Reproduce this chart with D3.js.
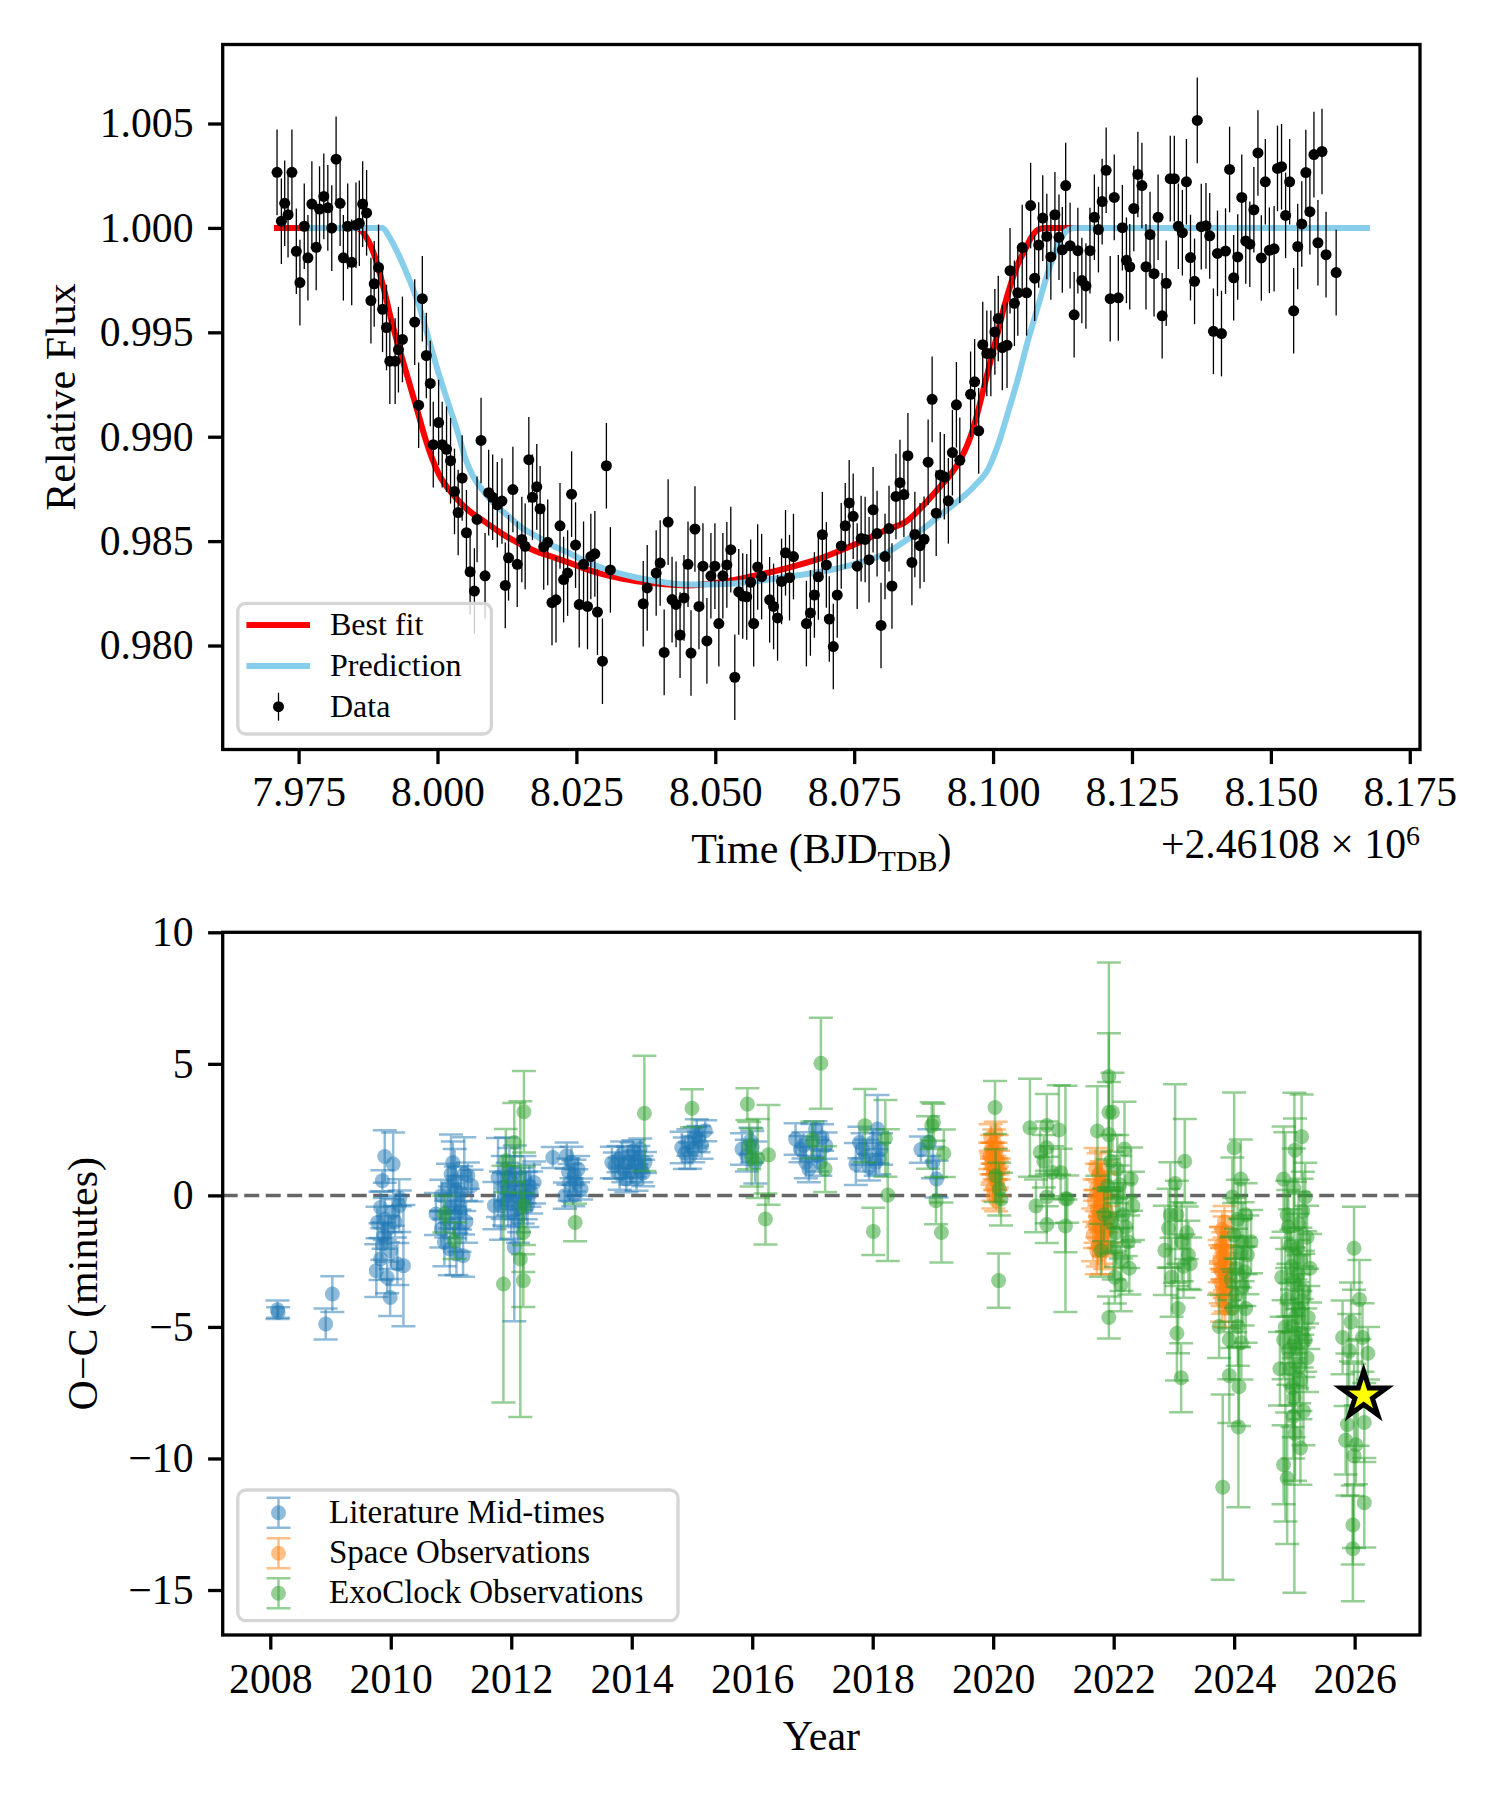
<!DOCTYPE html>
<html>
<head>
<meta charset="utf-8">
<script src="https://cdn.jsdelivr.net/npm/d3@7"></script>
<style>
  body { margin: 0; background: #ffffff; }
</style>
</head>
<body>
<div id="chart"></div>
<script>
// ---------------- data ----------------

// light curve: [time - 2461080, relative flux]
var lightCurve = [
  [7.97112, 1.00266], [7.9719, 1.00032], [7.9725, 1.00118], [7.9731, 1.00063], [7.9738, 1.00266],
  [7.97459, 0.99888], [7.97524, 0.99738], [7.97602, 1.00008], [7.97668, 0.99857], [7.97739, 1.00114],
  [7.97817, 0.99907], [7.97877, 1.0009], [7.97954, 1.00151], [7.98026, 1.00096], [7.98097, 0.99999],
  [7.98175, 1.00329], [7.98247, 1.00118], [7.98306, 0.99857], [7.98384, 1.00008], [7.98456, 0.99835],
  [7.98533, 1.00013], [7.98593, 1.00022], [7.98653, 1.00114], [7.98724, 1.00072],
  [7.98802, 0.99652], [7.98861, 0.99732], [7.98939, 0.99811], [7.99011, 0.9961], [7.99082, 0.99523],
  [7.99142, 0.99362], [7.99238, 0.99362], [7.99297, 0.99417], [7.99369, 0.99466], [7.9959, 0.99549],
  [7.99661, 0.99151], [7.99727, 0.99661], [7.99799, 0.99389], [7.9987, 0.99255], [7.99924, 0.98962],
  [8.0002, 0.99068], [8.00085, 0.98962], [8.00163, 0.9894], [8.00235, 0.98885], [8.00306, 0.98738],
  [8.00372, 0.98637], [8.00444, 0.98802], [8.00521, 0.9854], [8.00587, 0.98353], [8.00664, 0.98261],
  [8.00712, 0.98604], [8.00784, 0.98982], [8.00856, 0.98334], [8.00921, 0.98732], [8.00993, 0.9871],
  [8.01076, 0.98674], [8.0116, 0.98692], [8.0122, 0.98288], [8.01279, 0.9842], [8.01357, 0.98747],
  [8.01435, 0.98389], [8.01518, 0.98508], [8.01578, 0.98475], [8.01644, 0.9889], [8.01709, 0.9871],
  [8.01787, 0.9876], [8.01847, 0.98655], [8.01912, 0.98472], [8.01984, 0.98494], [8.02061, 0.98206],
  [8.02133, 0.98219], [8.02205, 0.98573], [8.0227, 0.98316], [8.02342, 0.98347], [8.02414, 0.98725],
  [8.02485, 0.98481], [8.02551, 0.98196], [8.02629, 0.98389], [8.027, 0.98187], [8.0276, 0.98426],
  [8.02832, 0.98439], [8.02879, 0.9816],
  [8.02969, 0.97925], [8.0304, 0.98861], [8.03112, 0.98362], [8.03703, 0.982], [8.03775, 0.98276],
  [8.03936, 0.98347], [8.04008, 0.98395], [8.0408, 0.97967], [8.04151, 0.98591], [8.04222, 0.9822],
  [8.04294, 0.98197], [8.04366, 0.9805], [8.04437, 0.98228], [8.04509, 0.98389], [8.04563, 0.97964],
  [8.04634, 0.98558], [8.04706, 0.98187], [8.04778, 0.9838], [8.04849, 0.98022], [8.04921, 0.98334],
  [8.04993, 0.9838], [8.05064, 0.98105], [8.05136, 0.98334], [8.05208, 0.98386], [8.05279, 0.98459],
  [8.05351, 0.97848], [8.05422, 0.98257], [8.05494, 0.98237], [8.05566, 0.98233], [8.05637, 0.98303],
  [8.05691, 0.98105], [8.05763, 0.98376], [8.05834, 0.9833], [8.05978, 0.98219], [8.06049, 0.98187],
  [8.06121, 0.98132], [8.06193, 0.98307], [8.06264, 0.98444], [8.06336, 0.98325], [8.06407, 0.98426],
  [8.0664, 0.98105], [8.06712, 0.98156], [8.06784, 0.98242], [8.06855, 0.98329], [8.06927, 0.98531],
  [8.06999, 0.98386], [8.07052, 0.98127], [8.07124, 0.97995], [8.07195, 0.98242], [8.07267, 0.98477],
  [8.07339, 0.98573], [8.0741, 0.98683], [8.07482, 0.98619], [8.07554, 0.9838], [8.07625, 0.98512],
  [8.07697, 0.98508], [8.07768, 0.98411], [8.0784, 0.9865], [8.07912, 0.98536], [8.07983, 0.98096],
  [8.08055, 0.98426], [8.08127, 0.9856], [8.0818, 0.98285], [8.08252, 0.98714], [8.08324, 0.9878],
  [8.08395, 0.98723], [8.08467, 0.98909], [8.08539, 0.98398], [8.08592, 0.98532],
  [8.08685, 0.98478], [8.08758, 0.98509], [8.08831, 0.98878], [8.08903, 0.99179], [8.08976, 0.98634],
  [8.09049, 0.98817], [8.09122, 0.98808], [8.09195, 0.98693], [8.09268, 0.98924], [8.0934, 0.99153],
  [8.09401, 0.98887], [8.09595, 0.99203], [8.09668, 0.99263], [8.09741, 0.99028], [8.09814, 0.99441],
  [8.09887, 0.99399], [8.0996, 0.99399], [8.10032, 0.99502], [8.10093, 0.99566], [8.10166, 0.99427],
  [8.10251, 0.99438], [8.10305, 0.99795], [8.10384, 0.99639], [8.10445, 0.99689], [8.10524, 0.99906],
  [8.10603, 0.99689], [8.10676, 1.00107], [8.10749, 0.99759], [8.10821, 0.99918], [8.10894, 1.00047],
  [8.10967, 0.99959], [8.1104, 0.99861], [8.11113, 1.00063], [8.11186, 0.99955], [8.11246, 0.99895],
  [8.11307, 1.00203], [8.11386, 0.99915], [8.11459, 0.99584], [8.11526, 0.99891], [8.11598, 0.99748],
  [8.11671, 0.99722], [8.11744, 0.99891], [8.11823, 1.00051], [8.11896, 0.99992], [8.11963, 1.00126],
  [8.12035, 1.00276], [8.12108, 0.99661], [8.12181, 1.00146], [8.12254, 0.99665], [8.12327, 1.00001],
  [8.124, 0.99845], [8.1246, 0.99814], [8.12533, 1.00093], [8.12606, 1.00256], [8.12679, 1.00203],
  [8.12752, 0.99814], [8.12825, 0.99968], [8.12897, 0.99781], [8.1297, 1.00051], [8.13043, 0.99579],
  [8.13116, 0.99735], [8.13189, 1.00236], [8.13262, 1.00236], [8.13334, 1.00008], [8.13407, 0.99977],
  [8.1348, 1.00221], [8.13553, 0.99858], [8.13626, 0.99744], [8.13675, 1.00515], [8.13747, 1.00006],
  [8.13832, 1.0001], [8.13899, 0.99962], [8.13966, 0.99505], [8.14039, 0.99878], [8.14111, 0.99494],
  [8.14184, 0.99889], [8.14257, 1.0028], [8.1433, 0.99761], [8.14403, 0.99861], [8.14476, 1.00146],
  [8.14548, 0.99937], [8.14621, 0.99922], [8.14694, 1.00087], [8.14767, 1.00359], [8.14828, 0.99856],
  [8.149, 1.00221], [8.14973, 0.99893], [8.15058, 0.999], [8.15119, 1.00285], [8.15192, 1.00293],
  [8.15265, 1.0006], [8.15338, 1.00221], [8.1541, 0.99603], [8.15483, 0.99911], [8.15556, 1.00019],
  [8.15629, 1.00265], [8.15702, 1.00078], [8.15775, 1.00351], [8.15847, 0.99929], [8.1592, 1.00366],
  [8.15993, 0.99872], [8.16175, 0.99786]
];
var fluxErr = 0.00205;

var bestFit = [
  [7.9711, 1.0], [7.98545, 1.0], [7.98712, 0.99958], [7.98891, 0.99848], [7.9904, 0.99701],
  [7.9919, 0.99536], [7.99369, 0.99371], [7.99548, 0.99206], [7.99668, 0.99096], [7.99787, 0.98986],
  [7.99906, 0.98894], [8.00026, 0.9882], [8.00205, 0.98747], [8.00384, 0.98692], [8.00563, 0.98646],
  [8.00862, 0.98591], [8.0116, 0.98536], [8.01459, 0.9849], [8.01757, 0.98453], [8.02056, 0.98426],
  [8.02354, 0.98398], [8.02712, 0.98362], [8.03309, 0.98321], [8.03906, 0.98298], [8.04503, 0.98288],
  [8.051, 0.98303], [8.05697, 0.98334], [8.06294, 0.98371], [8.06891, 0.98417], [8.07488, 0.98481],
  [8.08085, 0.98554], [8.08442, 0.98595], [8.08746, 0.98671], [8.09049, 0.98762], [8.09231, 0.98817],
  [8.09413, 0.98891], [8.09595, 0.99001], [8.09717, 0.99111], [8.09838, 0.99239], [8.0996, 0.99368],
  [8.10081, 0.99496], [8.10202, 0.99625], [8.10324, 0.99735], [8.10445, 0.99827], [8.10567, 0.99891],
  [8.10688, 0.99955], [8.10809, 0.99992], [8.10931, 1.0], [8.167, 1.0]
];

var prediction = [
  [7.9763, 1.0], [7.9901, 1.0], [7.9913, 0.99958], [7.99309, 0.99866], [7.99488, 0.99756],
  [7.99668, 0.99628], [7.99847, 0.99463], [8.00026, 0.99298], [8.00205, 0.99151], [8.00384, 0.99004],
  [8.00503, 0.98894], [8.00623, 0.9882], [8.00802, 0.98747], [8.0104, 0.98674], [8.01279, 0.98619],
  [8.01518, 0.98564], [8.01757, 0.98527], [8.02056, 0.98481], [8.02354, 0.98444], [8.02712, 0.98398],
  [8.03309, 0.98343], [8.03906, 0.9831], [8.04503, 0.98292], [8.051, 0.98294], [8.05697, 0.98307],
  [8.06294, 0.98329], [8.06891, 0.98353], [8.07488, 0.98389], [8.08085, 0.98444], [8.08442, 0.98505],
  [8.08746, 0.9856], [8.09049, 0.98625], [8.09353, 0.98689], [8.09656, 0.98762], [8.09929, 0.98854],
  [8.10081, 0.98955], [8.10263, 0.99111], [8.10445, 0.99276], [8.10627, 0.9946], [8.10809, 0.99625],
  [8.10991, 0.9979], [8.11113, 0.99882], [8.11234, 0.99955], [8.11355, 0.99992], [8.11477, 1.0],
  [8.1673, 1.0]
];

// O-C points: [year, O-C minutes, error minutes]
var literature = [
  [2008.12, -4.35, 0.35], [2008.13, -4.45, 0.2], [2009.03, -3.75, 0.68], [2008.92, -4.89, 0.59],
  [2009.90, 1.48, 1.0], [2010.04, 1.19, 1.2], [2009.86, 0.56, 0.4], [2010.15, -0.11, 0.3],
  [2009.83, -0.46, 0.6], [2009.90, -0.90, 0.8], [2010.07, -1.0, 0.6], [2009.95, -1.28, 0.5],
  [2009.86, -1.85, 0.6], [2010.0, -2.10, 0.7], [2009.76, -2.86, 1.0], [2010.11, -2.61, 0.8],
  [2010.21, -2.67, 2.3], [2009.83, -2.42, 0.8], [2009.94, -3.12, 0.6], [2009.99, -3.88, 0.7],
  [2009.88, -1.53, 0.5], [2010.03, -0.65, 0.5], [2009.78, -1.03, 0.6], [2010.14, -0.39, 1.0],
  [2011.0, 0.81, 1.5], [2011.22, 0.81, 1.4], [2011.06, 0.56, 1.2], [2011.17, 0.11, 1.0],
  [2010.84, -0.01, 0.6], [2010.75, -0.71, 0.8], [2011.11, -0.27, 1.0], [2010.98, -0.46, 0.8],
  [2010.84, -1.28, 0.7], [2011.06, -1.03, 0.6], [2010.89, -1.79, 0.9], [2011.14, -1.34, 0.8],
  [2011.09, -2.23, 0.8], [2011.2, -2.29, 0.8], [2010.98, -2.04, 1.0], [2011.28, 0.75, 0.5],
  [2011.34, 0.37, 0.6], [2011.03, 1.25, 0.8], [2010.92, -0.9, 0.7], [2011.15, -0.6, 0.7],
  [2011.08, 0.2, 0.9], [2011.25, -1.0, 0.8], [2010.95, 0.3, 0.9],
  [2011.78, 0.68, 1.5], [2011.83, -0.39, 1.3], [2011.91, 1.0, 1.2], [2011.94, 0.24, 1.0],
  [2012.02, 0.49, 1.0], [2012.08, -0.01, 0.9], [2012.16, 0.24, 0.8], [2012.24, -0.01, 0.9],
  [2012.3, 0.37, 0.8], [2012.0, -0.65, 1.0], [2012.11, -0.90, 0.9], [2012.05, -1.98, 2.8],
  [2011.88, -0.14, 1.0], [2012.19, -0.27, 0.8], [2012.33, 0.11, 0.8], [2011.72, -0.39, 0.9],
  [2012.38, 0.49, 0.8], [2011.97, 0.7, 1.1], [2012.13, -0.5, 0.9], [2011.86, 0.3, 1.2],
  [2012.22, 0.6, 0.9], [2012.06, 0.9, 1.0], [2011.95, -0.2, 1.0], [2012.27, -0.4, 0.8],
  [2012.69, 1.44, 0.4], [2012.92, 1.51, 0.5], [2013.0, 1.25, 0.6], [2013.05, 0.75, 0.6],
  [2012.97, 0.49, 0.7], [2012.89, -0.01, 0.5], [2013.11, 1.0, 0.5], [2013.16, 0.24, 0.4],
  [2013.03, -0.01, 0.4], [2013.08, 0.49, 0.5], [2012.95, 0.9, 0.5],
  [2013.67, 1.25, 0.6], [2013.78, 1.38, 0.5], [2013.86, 1.0, 0.5], [2013.94, 1.25, 0.6],
  [2014.0, 1.51, 0.5], [2014.05, 1.19, 0.5], [2014.11, 1.38, 0.5], [2014.16, 1.0, 0.5],
  [2013.91, 0.62, 0.5], [2014.08, 0.68, 0.5], [2014.22, 1.25, 0.4], [2013.8, 0.81, 0.6],
  [2013.72, 1.13, 0.5], [2014.14, 1.76, 0.4], [2013.98, 0.9, 0.5], [2014.03, 1.7, 0.4],
  [2013.84, 1.55, 0.5], [2014.19, 0.85, 0.5],
  [2014.83, 1.82, 0.6], [2014.94, 2.01, 0.5], [2015.02, 1.76, 0.5], [2015.11, 2.14, 0.5],
  [2015.22, 2.46, 0.4], [2014.97, 1.51, 0.5], [2015.16, 1.89, 0.5], [2015.08, 2.39, 0.5],
  [2014.88, 1.6, 0.6], [2015.05, 2.2, 0.4],
  [2015.83, 1.76, 0.6], [2015.97, 2.07, 0.5], [2016.05, 1.25, 0.8], [2015.91, 1.51, 0.6],
  [2016.0, 1.85, 0.6],
  [2016.72, 2.14, 0.6], [2016.8, 1.76, 0.5], [2016.89, 1.25, 0.6], [2017.0, 2.01, 0.7],
  [2017.08, 1.51, 0.6], [2017.13, 1.25, 0.5], [2016.94, 1.0, 0.5], [2017.05, 2.52, 0.3],
  [2017.22, 1.89, 0.5], [2016.85, 1.9, 0.5], [2017.16, 2.2, 0.5],
  [2017.72, 1.19, 0.8], [2017.83, 1.76, 0.6], [2017.89, 1.51, 0.6], [2018.0, 2.01, 0.5],
  [2018.08, 2.52, 1.3], [2018.05, 1.25, 0.5], [2018.14, 1.76, 0.6], [2017.94, 1.07, 0.5],
  [2017.78, 2.01, 0.6], [2018.11, 1.4, 0.6],
  [2018.8, 1.74, 0.5], [2018.94, 2.01, 0.5], [2019.06, 0.62, 0.7], [2019.0, 1.25, 0.6]
];

var space = [
  [2019.96, 2.2, 0.5], [2019.98, 1.9, 0.4], [2020.0, 1.6, 0.4], [2020.02, 2.0, 0.5],
  [2020.04, 1.4, 0.4], [2019.97, 1.2, 0.4], [2020.05, 1.0, 0.4], [2019.99, 0.8, 0.4],
  [2020.03, 0.6, 0.4], [2020.06, 1.8, 0.5], [2020.01, 1.1, 0.3], [2020.07, 0.4, 0.4],
  [2019.95, 1.5, 0.5], [2020.08, 1.3, 0.4], [2020.0, 0.3, 0.5], [2020.04, 2.4, 0.4],
  [2020.02, 0.9, 0.3], [2019.98, 1.7, 0.3], [2020.06, 0.7, 0.4], [2020.09, 1.0, 0.4],
  [2020.0, 0.0, 0.5], [2020.05, -0.2, 0.4],
  [2021.70, 1.0, 0.8], [2021.75, 0.8, 0.8], [2021.80, 0.6, 0.7], [2021.72, 0.3, 0.9],
  [2021.85, 0.1, 0.8], [2021.68, -0.2, 0.8], [2021.78, -0.4, 0.9], [2021.88, -0.6, 0.8],
  [2021.7, -0.8, 1.0], [2021.82, -1.0, 0.9], [2021.76, -1.2, 0.8], [2021.9, -1.3, 0.9],
  [2021.66, -1.5, 1.0], [2021.8, -1.7, 0.9], [2021.74, -1.9, 0.8], [2021.86, -2.0, 0.8],
  [2021.72, -2.1, 0.9], [2021.8, -2.2, 0.8], [2021.84, -0.2, 1.0], [2021.73, -0.5, 1.1],
  [2021.79, 0.9, 0.8], [2021.92, -0.9, 0.9], [2021.69, -1.1, 0.9], [2021.83, -1.5, 0.8],
  [2021.77, 0.2, 1.0],
  [2023.8, -1.3, 0.7], [2023.84, -1.6, 0.8], [2023.78, -1.9, 0.7], [2023.86, -2.1, 0.8],
  [2023.82, -2.3, 0.9], [2023.76, -2.5, 0.8], [2023.88, -2.7, 0.8], [2023.8, -2.9, 0.9],
  [2023.84, -3.1, 0.8], [2023.78, -3.3, 0.8], [2023.86, -3.5, 0.9], [2023.82, -3.7, 0.8],
  [2023.8, -4.0, 0.8], [2023.85, -4.3, 0.7], [2023.79, -2.0, 0.8], [2023.83, -2.6, 0.7],
  [2023.87, -3.0, 0.8], [2023.81, -3.5, 0.7], [2023.77, -2.8, 0.9], [2023.84, -1.0, 0.6]
];

var exoclock = [
  [2010.89, -0.71, 0.7], [2011.06, -1.72, 0.7],
  [2012.21, 3.18, 1.55], [2012.05, 2.01, 1.5], [2011.91, 1.32, 1.2], [2012.21, -0.39, 1.5],
  [2012.2, -1.41, 1.5], [2012.15, -2.42, 6.0], [2011.87, -3.37, 4.5], [2012.2, -3.24, 1.0],
  [2013.06, -1.03, 0.71], [2014.21, 3.12, 2.19], [2015.0, 3.31, 0.72],
  [2015.92, 3.47, 0.6], [2015.99, 1.44, 1.1], [2016.09, 1.4, 1.5], [2016.27, 1.54, 1.9],
  [2016.22, -0.9, 0.97], [2015.95, 1.89, 0.9],
  [2017.0, 2.11, 0.7], [2017.14, 5.02, 1.73], [2017.21, 1.0, 0.87],
  [2017.87, 2.65, 1.39], [2018.21, 2.17, 1.46], [2018.25, 0.01, 2.5], [2018.01, -1.37, 0.9],
  [2018.98, 2.65, 0.89], [2019.01, 2.78, 0.7], [2019.18, 1.6, 0.9], [2019.05, -0.2, 0.9],
  [2019.14, -1.41, 1.14], [2018.92, 2.01, 1.0],
  [2020.03, 3.34, 1.01], [2020.04, 0.75, 1.0], [2020.1, 0.24, 1.0], [2020.13, -0.14, 1.0],
  [2020.09, -3.24, 1.03],
  [2020.61, 2.57, 1.86], [2020.89, 2.66, 1.19], [2021.09, 2.49, 1.7], [2020.89, 1.81, 1.0],
  [2020.84, 1.3, 1.0], [2020.98, 0.87, 1.0], [2021.12, 0.87, 0.9], [2021.23, -0.14, 0.9],
  [2020.89, -0.06, 1.0], [2020.89, -1.11, 0.7], [2021.20, -0.13, 4.3], [2020.78, 1.64, 0.9],
  [2020.71, -0.4, 1.0], [2021.20, -1.16, 1.0],
  [2021.92, 4.52, 4.33], [2021.92, 3.16, 3.0], [2021.92, 2.31, 2.0], [2021.73, 2.45, 1.7],
  [2022.18, 1.76, 1.8], [2021.95, 1.3, 1.0], [2021.9, 0.37, 1.0], [2022.07, -0.06, 1.2],
  [2022.15, -0.74, 1.2], [2022.04, -1.42, 1.3], [2022.24, -1.76, 1.0], [2022.13, -2.43, 1.2],
  [2022.26, -2.77, 1.0], [2021.92, -4.64, 0.8], [2021.84, -0.74, 1.0], [2021.79, -2.09, 1.0],
  [2022.02, -3.11, 1.0], [2022.29, 0.62, 1.2], [2022.32, -0.4, 1.3], [2021.98, 3.16, 1.5],
  [2022.1, 0.4, 1.1], [2022.2, -1.2, 1.1], [2022.0, -2.0, 1.2], [2022.12, -3.4, 1.0],
  [2021.96, -1.0, 1.2], [2022.06, 1.0, 1.3],
  [2023.02, 0.45, 3.77], [2023.18, 1.3, 1.6], [2022.91, -1.25, 1.5], [2023.05, -0.74, 1.3],
  [2023.13, -1.76, 1.5], [2023.24, -2.26, 1.3], [2022.96, -3.11, 1.5], [2023.07, -4.3, 1.7],
  [2023.05, -5.24, 1.8], [2023.12, -6.93, 1.31], [2023.27, -2.6, 1.0], [2022.85, -2.09, 1.7],
  [2023.16, -2.69, 1.2], [2022.94, -0.74, 2.0], [2023.21, -1.42, 1.0],
  [2024.0, 1.81, 2.1], [2023.92, -6.85, 1.8], [2023.81, -11.09, 3.52], [2024.07, -8.8, 3.05],
  [2024.08, -7.27, 1.5], [2023.97, -0.06, 1.5], [2024.06, -0.91, 1.5], [2024.14, -1.76, 1.5],
  [2024.22, -2.26, 1.5], [2024.03, -2.77, 1.5], [2024.14, -3.45, 1.5], [2023.97, -4.3, 1.5],
  [2024.06, -4.98, 1.5], [2023.92, -5.49, 1.5], [2024.19, -0.74, 1.2], [2024.28, -1.76, 1.2],
  [2024.11, 0.62, 1.5], [2023.75, -4.98, 1.2], [2024.19, -4.3, 1.3], [2024.1, -2.2, 1.3],
  [2024.02, -3.8, 1.4], [2024.17, -2.9, 1.3], [2024.0, -1.5, 1.4], [2024.12, -5.6, 1.4],
  [2023.95, -3.2, 1.6],
  [2025.12, 2.23, 1.6], [2025.01, 1.72, 1.2], [2024.82, 0.62, 2.0], [2024.99, 0.28, 1.5],
  [2025.18, -0.06, 1.3], [2024.88, -0.74, 1.3], [2025.07, -1.08, 1.2], [2025.21, -1.59, 1.2],
  [2024.93, -1.93, 1.4], [2025.1, -2.43, 1.2], [2025.26, -2.77, 1.3], [2024.79, -3.11, 1.5],
  [2024.99, -3.28, 1.3], [2025.15, -3.62, 1.4], [2024.88, -3.96, 1.2], [2025.07, -4.3, 1.3],
  [2025.23, -4.64, 1.2], [2024.96, -4.98, 1.4], [2025.12, -5.24, 1.3], [2024.82, -5.49, 1.5],
  [2025.04, -5.83, 1.5], [2025.21, -6.17, 1.3], [2024.93, -6.59, 1.4], [2024.76, -6.59, 1.4],
  [2025.1, -7.01, 1.5], [2024.99, -7.69, 1.5], [2025.15, -8.2, 1.3], [2025.01, -9.05, 1.8],
  [2024.82, -10.24, 1.5], [2024.88, -10.75, 2.5], [2025.0, -5.6, 9.5], [2024.85, -5.0, 7.4],
  [2025.05, -2.0, 1.3], [2024.95, -2.7, 1.4], [2025.13, -4.0, 1.3], [2025.02, -4.6, 1.4],
  [2024.9, -5.9, 1.3], [2025.08, -6.5, 1.4], [2024.97, -7.3, 1.5], [2025.18, -5.5, 1.2],
  [2025.06, -3.0, 1.3], [2024.9, -1.2, 1.4], [2025.14, -0.6, 1.5], [2024.98, -8.4, 1.6],
  [2025.1, -9.6, 1.4],
  [2025.99, -2.01, 1.58], [2026.08, -3.96, 1.5], [2025.94, -4.81, 1.5], [2025.80, -5.4, 1.4],
  [2026.13, -5.4, 1.3], [2025.91, -5.91, 1.4], [2026.22, -6.0, 1.0], [2025.88, -8.71, 2.7],
  [2025.85, -9.31, 1.3], [2026.16, -8.63, 1.5], [2026.02, -9.48, 1.5], [2026.16, -11.68, 1.7],
  [2025.97, -12.53, 1.5], [2025.97, -13.43, 2.0], [2026.05, -7.52, 2.0], [2025.99, -9.9, 3.5]
];

var predictedPoint = [2026.15, -7.6];

// tick values
var timeTicks = [7.975, 8.0, 8.025, 8.05, 8.075, 8.1, 8.125, 8.15, 8.175];
var fluxTicks = [0.980, 0.985, 0.990, 0.995, 1.000, 1.005];
var yearTicks = [2008, 2010, 2012, 2014, 2016, 2018, 2020, 2022, 2024, 2026];
var ocTicks = [-15, -10, -5, 0, 5, 10];

// ---------------- layout ----------------
var svgWidth = 1500;
var svgHeight = 1800;

var topBox = { left: 222.7, right: 1420, top: 44.5, bottom: 749.5 };
var botBox = { left: 222.7, right: 1420, top: 932.3, bottom: 1635 };

var FONT = '"Liberation Serif", "Times New Roman", serif';
var tickFont = 41.7;
var labelFont = 42;
var legendFont = 32;
var tickLen = 14.6;
var spineW = 3.3;

var svg = d3
  .select("#chart")
  .append("svg")
  .attr("width", svgWidth)
  .attr("height", svgHeight)
  .style("background", "#ffffff");

// shared axis styling
function styleAxis(g) {
  g.select(".domain").remove();
  g.attr("font-family", FONT).attr("font-size", tickFont);
  g.selectAll(".tick line").attr("stroke", "black").attr("stroke-width", spineW);
  g.selectAll(".tick text").attr("fill", "black");
}

// ================= top panel: light curve =================
var topW = topBox.right - topBox.left;
var topH = topBox.bottom - topBox.top;

var topG = svg
  .append("g")
  .attr("transform", `translate(${topBox.left}, ${topBox.top})`);

var xTime = d3.scaleLinear().domain([7.96134, 8.17684]).range([0, topW]);
var yFlux = d3.scaleLinear().domain([0.97502, 1.008784]).range([topH, 0]);

var modelLine = d3
  .line()
  .x(d => xTime(d[0]))
  .y(d => yFlux(d[1]))
  .curve(d3.curveMonotoneX);

topG
  .append("path")
  .datum(bestFit)
  .attr("d", modelLine)
  .attr("fill", "none")
  .attr("stroke", "red")
  .attr("stroke-width", 6)
  .attr("stroke-linecap", "square");

topG
  .append("path")
  .datum(prediction)
  .attr("d", modelLine)
  .attr("fill", "none")
  .attr("stroke", "skyblue")
  .attr("stroke-width", 6)
  .attr("stroke-linecap", "square");

// data error bars then points
topG
  .append("g")
  .selectAll("line")
  .data(lightCurve)
  .enter()
  .append("line")
  .attr("x1", d => xTime(d[0]))
  .attr("x2", d => xTime(d[0]))
  .attr("y1", d => yFlux(d[1] - fluxErr))
  .attr("y2", d => yFlux(d[1] + fluxErr))
  .attr("stroke", "black")
  .attr("stroke-width", 1.3);

topG
  .append("g")
  .selectAll("circle")
  .data(lightCurve)
  .enter()
  .append("circle")
  .attr("cx", d => xTime(d[0]))
  .attr("cy", d => yFlux(d[1]))
  .attr("r", 5.5)
  .attr("fill", "black");

// axes
var topX = topG
  .append("g")
  .attr("transform", `translate(0, ${topH})`)
  .call(
    d3.axisBottom(xTime)
      .tickValues(timeTicks)
      .tickFormat(d3.format(".3f"))
      .tickSize(tickLen)
      .tickSizeOuter(0)
  );
styleAxis(topX);
topX.selectAll(".tick text").attr("y", 56.5).attr("dy", null);

var topY = topG
  .append("g")
  .call(
    d3.axisLeft(yFlux)
      .tickValues(fluxTicks)
      .tickFormat(d3.format(".3f"))
      .tickSize(tickLen)
      .tickPadding(14.6)
      .tickSizeOuter(0)
  );
styleAxis(topY);

topG
  .append("rect")
  .attr("width", topW)
  .attr("height", topH)
  .attr("fill", "none")
  .attr("stroke", "black")
  .attr("stroke-width", spineW);

// labels
svg
  .append("text")
  .attr("transform", `translate(75, ${(topBox.top + topBox.bottom) / 2}) rotate(-90)`)
  .attr("text-anchor", "middle")
  .attr("font-family", FONT)
  .attr("font-size", labelFont)
  .text("Relative Flux");

var timeLabel = svg
  .append("text")
  .attr("x", (topBox.left + topBox.right) / 2)
  .attr("y", 863)
  .attr("text-anchor", "middle")
  .attr("font-family", FONT)
  .attr("font-size", labelFont);
timeLabel.append("tspan").text("Time (BJD");
timeLabel.append("tspan").attr("font-size", 30).attr("dy", 8).text("TDB");
timeLabel.append("tspan").attr("dy", -8).text(")");

// offset text sits below the tick labels, right-aligned to the frame
var offsetText = svg
  .append("text")
  .attr("x", topBox.right)
  .attr("y", 858)
  .attr("text-anchor", "end")
  .attr("font-family", FONT)
  .attr("font-size", tickFont);
offsetText.append("tspan").text("+2.46108 \u00d7 10");
offsetText.append("tspan").attr("font-size", 28).attr("dy", -13).text("6");

// legend (top)
var legTop = svg.append("g");
legTop
  .append("rect")
  .attr("x", 237.8)
  .attr("y", 603.3)
  .attr("width", 253.6)
  .attr("height", 130.7)
  .attr("rx", 8)
  .attr("fill", "white")
  .attr("fill-opacity", 0.8)
  .attr("stroke", "#d5d5d5")
  .attr("stroke-width", spineW);

var topLegendItems = [
  { label: "Best fit", color: "red", y: 625, kind: "line" },
  { label: "Prediction", color: "skyblue", y: 666, kind: "line" },
  { label: "Data", color: "black", y: 706.7, kind: "point" }
];

topLegendItems.forEach(function(item) {
  if (item.kind === "line") {
    legTop
      .append("line")
      .attr("x1", 246.4)
      .attr("x2", 310)
      .attr("y1", item.y)
      .attr("y2", item.y)
      .attr("stroke", item.color)
      .attr("stroke-width", 6);
  } else {
    legTop
      .append("line")
      .attr("x1", 278.5)
      .attr("x2", 278.5)
      .attr("y1", item.y - 14)
      .attr("y2", item.y + 14)
      .attr("stroke", "black")
      .attr("stroke-width", 1.3);
    legTop
      .append("circle")
      .attr("cx", 278.5)
      .attr("cy", item.y)
      .attr("r", 5.5)
      .attr("fill", "black");
  }
  legTop
    .append("text")
    .attr("x", 330)
    .attr("y", item.y + 10)
    .attr("font-family", FONT)
    .attr("font-size", legendFont)
    .text(item.label);
});

// ================= bottom panel: O-C =================
var botW = botBox.right - botBox.left;
var botH = botBox.bottom - botBox.top;

var botG = svg
  .append("g")
  .attr("transform", `translate(${botBox.left}, ${botBox.top})`);

var xYear = d3.scaleLinear().domain([2007.21, 2027.085]).range([0, botW]);
var yOC = d3.scaleLinear().domain([-16.71, 10]).range([botH, 0]);

// zero reference line
botG
  .append("line")
  .attr("x1", 0)
  .attr("x2", botW)
  .attr("y1", yOC(0))
  .attr("y2", yOC(0))
  .attr("stroke", "black")
  .attr("stroke-opacity", 0.6)
  .attr("stroke-width", 3.5)
  .attr("stroke-dasharray", "15,6.5");

var capHalf = 12;

function errPath(d) {
  var x = xYear(d[0]);
  var y1 = yOC(d[1] - d[2]);
  var y2 = yOC(d[1] + d[2]);
  return `M${x},${y1}V${y2}M${x - capHalf},${y1}H${x + capHalf}M${x - capHalf},${y2}H${x + capHalf}`;
}

function drawSeries(data, color) {
  var g = botG.append("g");
  g.selectAll("path")
    .data(data)
    .enter()
    .append("path")
    .attr("d", errPath)
    .attr("fill", "none")
    .attr("stroke", color)
    .attr("stroke-opacity", 0.5)
    .attr("stroke-width", 2.5);
  g.selectAll("circle")
    .data(data)
    .enter()
    .append("circle")
    .attr("cx", d => xYear(d[0]))
    .attr("cy", d => yOC(d[1]))
    .attr("r", 7.5)
    .attr("fill", color)
    .attr("fill-opacity", 0.5);
}

drawSeries(literature, "#1f77b4");
drawSeries(space, "#ff7f0e");
drawSeries(exoclock, "#2ca02c");

// predicted mid-time star
var starR = 24;
botG
  .append("path")
  .attr("d", d3.symbol(d3.symbolStar).size((starR * starR) / 0.8908130915292852)())
  .attr("transform", `translate(${xYear(predictedPoint[0])}, ${yOC(predictedPoint[1])})`)
  .attr("fill", "yellow")
  .attr("stroke", "black")
  .attr("stroke-width", 5)
  .attr("stroke-linejoin", "miter");

// axes
var botX = botG
  .append("g")
  .attr("transform", `translate(0, ${botH})`)
  .call(
    d3.axisBottom(xYear)
      .tickValues(yearTicks)
      .tickFormat(d3.format("d"))
      .tickSize(tickLen)
      .tickSizeOuter(0)
  );
styleAxis(botX);
botX.selectAll(".tick text").attr("y", 58).attr("dy", null);

var botY = botG
  .append("g")
  .call(
    d3.axisLeft(yOC)
      .tickValues(ocTicks)
      .tickFormat(d3.format("d"))
      .tickSize(tickLen)
      .tickPadding(14.6)
      .tickSizeOuter(0)
  );
styleAxis(botY);

botG
  .append("rect")
  .attr("width", botW)
  .attr("height", botH)
  .attr("fill", "none")
  .attr("stroke", "black")
  .attr("stroke-width", spineW);

svg
  .append("text")
  .attr("transform", `translate(97, ${(botBox.top + botBox.bottom) / 2}) rotate(-90)`)
  .attr("text-anchor", "middle")
  .attr("font-family", FONT)
  .attr("font-size", labelFont)
  .text("O\u2212C (minutes)");

svg
  .append("text")
  .attr("x", (botBox.left + botBox.right) / 2)
  .attr("y", 1750)
  .attr("text-anchor", "middle")
  .attr("font-family", FONT)
  .attr("font-size", labelFont)
  .text("Year");

// legend (bottom)
var legBot = svg.append("g");
legBot
  .append("rect")
  .attr("x", 237.8)
  .attr("y", 1490)
  .attr("width", 440.2)
  .attr("height", 130.7)
  .attr("rx", 8)
  .attr("fill", "white")
  .attr("fill-opacity", 0.8)
  .attr("stroke", "#d5d5d5")
  .attr("stroke-width", spineW);

var botLegendItems = [
  { label: "Literature Mid-times", color: "#1f77b4", y: 1512.7 },
  { label: "Space Observations", color: "#ff7f0e", y: 1553.3 },
  { label: "ExoClock Observations", color: "#2ca02c", y: 1593.3 }
];

botLegendItems.forEach(function(item) {
  var x = 278.5;
  legBot
    .append("path")
    .attr("d", `M${x},${item.y - 15}V${item.y + 15}M${x - capHalf},${item.y - 15}H${x + capHalf}M${x - capHalf},${item.y + 15}H${x + capHalf}`)
    .attr("fill", "none")
    .attr("stroke", item.color)
    .attr("stroke-opacity", 0.5)
    .attr("stroke-width", 2.5);
  legBot
    .append("circle")
    .attr("cx", x)
    .attr("cy", item.y)
    .attr("r", 7.5)
    .attr("fill", item.color)
    .attr("fill-opacity", 0.5);
  legBot
    .append("text")
    .attr("x", 329)
    .attr("y", item.y + 10)
    .attr("font-family", FONT)
    .attr("font-size", 33)
    .text(item.label);
});
</script>
</body>
</html>
